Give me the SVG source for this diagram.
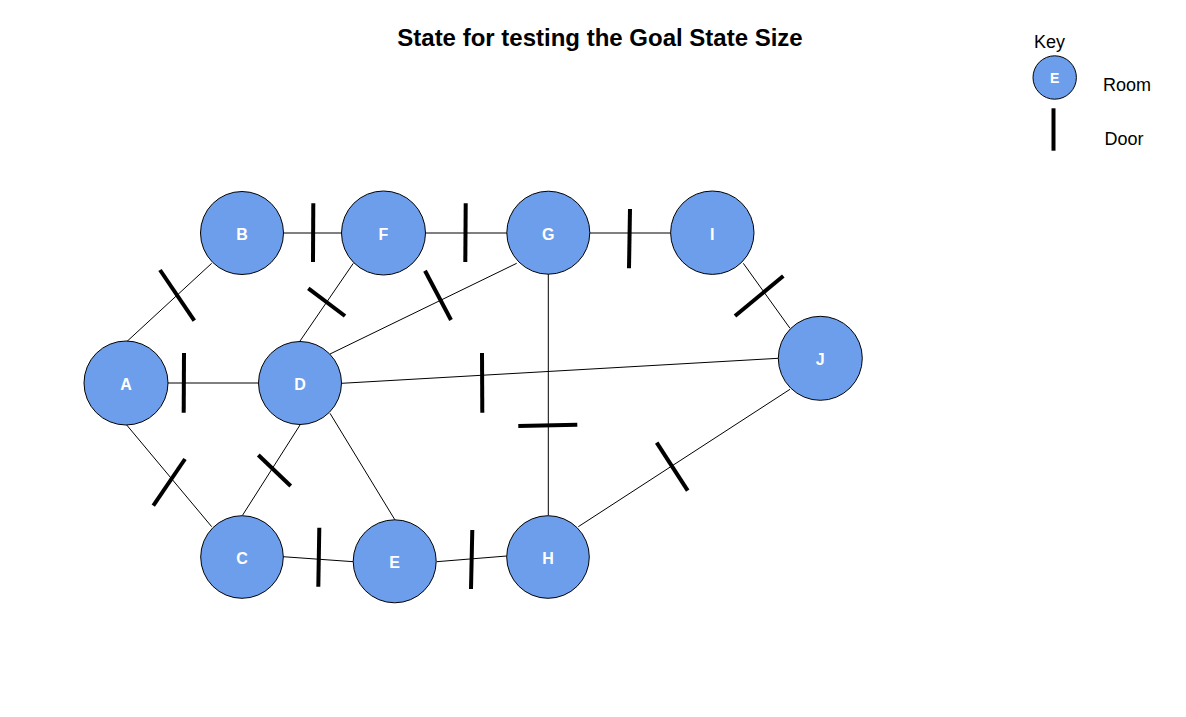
<svg xmlns="http://www.w3.org/2000/svg" width="1186" height="717" viewBox="0 0 1186 717">
<style>
.room{fill:#6d9eeb;stroke:#000;stroke-width:1}
.lbl{font-family:"Liberation Sans",Arial,sans-serif;font-weight:bold;font-size:16px;fill:#fff;text-anchor:middle}
.conn{stroke:#000;stroke-width:1;fill:none}
.door{stroke:#000;stroke-width:4;stroke-linecap:butt}
.txt{font-family:"Liberation Sans",Arial,sans-serif;fill:#000}
</style>
<rect width="1186" height="717" fill="#fff"/>
<text class="txt" x="600" y="46" font-size="24" font-weight="bold" text-anchor="middle">State for testing the Goal State Size</text>
<g id="connectors">
<line class="conn" x1="126.7" y1="341.7" x2="211.7" y2="263.3"/>
<line class="conn" x1="283" y1="233" x2="341" y2="233"/>
<line class="conn" x1="425" y1="233" x2="507" y2="233"/>
<line class="conn" x1="590" y1="233" x2="671" y2="233"/>
<line class="conn" x1="353.3" y1="263.3" x2="300" y2="341"/>
<line class="conn" x1="330" y1="354" x2="516.7" y2="263.3"/>
<line class="conn" x1="168" y1="383" x2="258" y2="383"/>
<line class="conn" x1="341.7" y1="383.3" x2="778.3" y2="358.3"/>
<line class="conn" x1="743.3" y1="263.3" x2="790" y2="328.3"/>
<line class="conn" x1="548.3" y1="274" x2="548.3" y2="515"/>
<line class="conn" x1="578.3" y1="526.7" x2="790" y2="389.3"/>
<line class="conn" x1="126.7" y1="425" x2="211.7" y2="526.7"/>
<line class="conn" x1="242.7" y1="515" x2="300" y2="425"/>
<line class="conn" x1="330" y1="413.3" x2="395" y2="520"/>
<line class="conn" x1="283" y1="556.7" x2="353.3" y2="561.7"/>
<line class="conn" x1="436.7" y1="561.7" x2="506.7" y2="556"/>
</g>
<g id="doors">
<line class="door" x1="160" y1="270" x2="194.3" y2="320.7"/>
<line class="door" x1="313.3" y1="203.3" x2="313" y2="262"/>
<line class="door" x1="465.7" y1="203.3" x2="465.3" y2="262"/>
<line class="door" x1="630" y1="209" x2="629" y2="268.3"/>
<line class="door" x1="308.3" y1="288.3" x2="345" y2="316"/>
<line class="door" x1="425" y1="270.7" x2="451" y2="320"/>
<line class="door" x1="184" y1="353" x2="183.7" y2="412.7"/>
<line class="door" x1="482" y1="353" x2="482.3" y2="412.7"/>
<line class="door" x1="783.3" y1="276" x2="735" y2="316"/>
<line class="door" x1="518.3" y1="426" x2="577.3" y2="424.7"/>
<line class="door" x1="656.7" y1="442.7" x2="687.7" y2="490.7"/>
<line class="door" x1="185" y1="459" x2="153.3" y2="505.7"/>
<line class="door" x1="258.3" y1="455" x2="290.7" y2="486"/>
<line class="door" x1="319.3" y1="527.7" x2="318.3" y2="586.7"/>
<line class="door" x1="472.3" y1="530" x2="471" y2="589"/>
</g>
<g id="node-A"><circle class="room" cx="126" cy="383" r="42"/><text class="lbl" x="126" y="390">A</text></g>
<g id="node-B"><circle class="room" cx="242" cy="233" r="41.5"/><text class="lbl" x="242" y="240">B</text></g>
<g id="node-F"><circle class="room" cx="383.5" cy="233" r="42"/><text class="lbl" x="383.5" y="240">F</text></g>
<g id="node-G"><circle class="room" cx="548.3" cy="232.7" r="41.5"/><text class="lbl" x="548.3" y="240">G</text></g>
<g id="node-I"><circle class="room" cx="712.3" cy="232.7" r="41.7"/><text class="lbl" x="712.3" y="240">I</text></g>
<g id="node-D"><circle class="room" cx="300" cy="383" r="41.5"/><text class="lbl" x="300" y="390">D</text></g>
<g id="node-J"><circle class="room" cx="820.3" cy="358.3" r="42"/><text class="lbl" x="820.3" y="365">J</text></g>
<g id="node-C"><circle class="room" cx="242" cy="557" r="41.3"/><text class="lbl" x="242" y="564">C</text></g>
<g id="node-E"><circle class="room" cx="394.7" cy="561.3" r="41.5"/><text class="lbl" x="394.7" y="568">E</text></g>
<g id="node-H"><circle class="room" cx="548" cy="557" r="41.3"/><text class="lbl" x="548" y="564">H</text></g>
<g id="key">
<text class="txt" x="1034" y="48" font-size="18">Key</text>
<circle class="room" cx="1054.7" cy="77.5" r="21.7"/>
<text class="lbl" x="1054.7" y="83" font-size="14" style="font-size:14px">E</text>
<text class="txt" x="1103" y="91" font-size="18">Room</text>
<line class="door" x1="1053.5" y1="108.3" x2="1053.5" y2="150.7"/>
<text class="txt" x="1104.5" y="145" font-size="18">Door</text>
</g>
</svg>
